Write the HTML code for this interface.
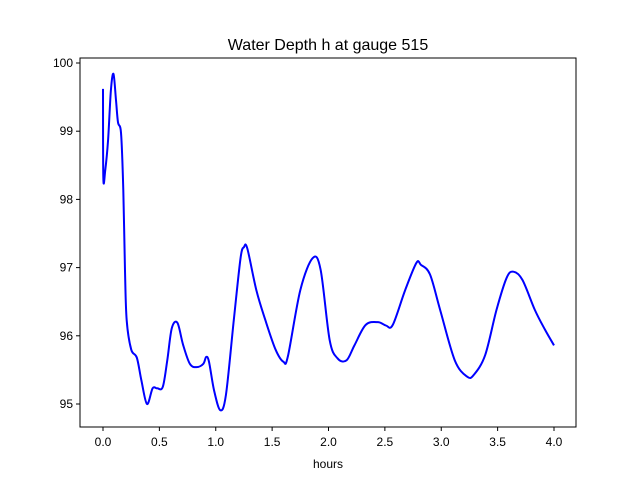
<!DOCTYPE html>
<html><head><meta charset="utf-8"><style>
body{margin:0;background:#fff}
svg{display:block;font-family:"Liberation Sans","DejaVu Sans",sans-serif}
</style></head><body>
<svg id="chart" width="640" height="480">
<rect width="640" height="480" fill="#fff"/>
<text x="328" y="50" text-anchor="middle" font-size="16">Water Depth h at gauge 515</text>
<g id="axes"></g>
<path id="line" fill="none" stroke="#0000ff" stroke-width="2" stroke-linejoin="round"/>
<rect x="80" y="58" width="496" height="369" fill="none" stroke="#000" stroke-width="1"/>
<text x="328" y="468" text-anchor="middle" font-size="12">hours</text>
</svg>
<script>
const xs=[0,0.003,0.02,0.045,0.07,0.093,0.115,0.133,0.16,0.18,0.195,0.21,0.25,0.30,0.34,0.39,0.44,0.48,0.53,0.57,0.61,0.66,0.71,0.77,0.83,0.89,0.915,0.94,0.985,1.04,1.09,1.16,1.22,1.25,1.28,1.36,1.44,1.53,1.6,1.64,1.75,1.86,1.93,2.01,2.08,2.16,2.23,2.33,2.44,2.51,2.57,2.68,2.78,2.82,2.9,2.99,3.12,3.23,3.29,3.39,3.49,3.58,3.64,3.72,3.83,3.92,4.0];
const ys=[99.62,98.31,98.43,98.87,99.6,99.84,99.46,99.13,98.97,98.14,96.96,96.23,95.8,95.68,95.35,95.0,95.23,95.23,95.25,95.64,96.11,96.19,95.87,95.59,95.54,95.59,95.69,95.62,95.2,94.91,95.13,96.23,97.14,97.3,97.28,96.67,96.23,95.8,95.62,95.7,96.67,97.14,96.97,95.94,95.67,95.64,95.86,96.16,96.2,96.15,96.16,96.67,97.07,97.04,96.9,96.38,95.64,95.4,95.43,95.72,96.38,96.85,96.94,96.82,96.38,96.09,95.86];
const xTicks=[0,0.5,1,1.5,2,2.5,3,3.5,4];
const xTickLabels=["0.0","0.5","1.0","1.5","2.0","2.5","3.0","3.5","4.0"];
const yTicks=[95,96,97,98,99,100];
const yTickLabels=["95","96","97","98","99","100"];
const X=v=>103+v*112.75;
const Y=v=>63+(100-v)*68.2;
const NS="http://www.w3.org/2000/svg";
const g=document.getElementById('axes');
function mk(t,a){const e=document.createElementNS(NS,t);for(const k in a)e.setAttribute(k,a[k]);g.appendChild(e);return e;}
xTicks.forEach((v,i)=>{
  const l=mk('line',{x1:X(v),x2:X(v),y1:427,y2:431,stroke:'#000'});
  
  
  const t=mk('text',{x:X(v),y:446,'text-anchor':'middle','font-size':12});
  t.textContent=xTickLabels[i];
  
  
});
yTicks.forEach((v,i)=>{
  const l=mk('line',{x1:76,x2:80,y1:Y(v),y2:Y(v),stroke:'#000'});
  
  
  const t=mk('text',{x:73,y:Y(v)+4,'text-anchor':'end','font-size':12});
  t.textContent=yTickLabels[i];
  
  
});
// Catmull-Rom smoothing
const P=xs.map((x,i)=>[X(x),Y(ys[i])]);
let d='M'+P[0][0]+','+P[0][1];
for(let i=0;i<P.length-1;i++){
  const p0=P[Math.max(0,i-1)],p1=P[i],p2=P[i+1],p3=P[Math.min(P.length-1,i+2)];
  const c1=[p1[0]+(p2[0]-p0[0])/6,p1[1]+(p2[1]-p0[1])/6];
  const c2=[p2[0]-(p3[0]-p1[0])/6,p2[1]-(p3[1]-p1[1])/6];
  d+=` C${c1[0]},${c1[1]} ${c2[0]},${c2[1]} ${p2[0]},${p2[1]}`;
}
document.getElementById('line').setAttribute('d',d);
</script>
</body></html>
